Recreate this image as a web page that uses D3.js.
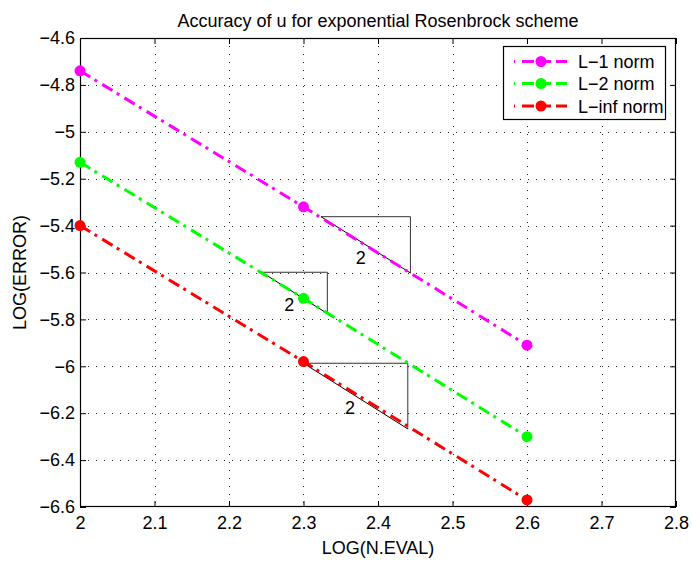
<!DOCTYPE html>
<html>
<head>
<meta charset="utf-8">
<script src="https://cdn.jsdelivr.net/npm/d3@7"></script>
<style>
  body { margin: 0; background: #fff; }
  svg { display: block; font-family: "Liberation Sans", Arial, Helvetica, sans-serif; }
</style>
</head>
<body>
<svg id="chart" width="692" height="561"></svg>
<script>
// log10 of the number of evaluations
const nEval = [2.0, 2.3, 2.6];
// log10 of the error for each norm
const errL1 = [-4.74, -5.32, -5.91];
const errL2 = [-5.13, -5.71, -6.30];
const errLinf = [-5.40, -5.98, -6.57];

const seriesNames = ["L\u22121 norm", "L\u22122 norm", "L\u2212inf norm"];
const seriesColors = ["#ff00ff", "#00ff00", "#ff0000"];

const xTicks = [2.0, 2.1, 2.2, 2.3, 2.4, 2.5, 2.6, 2.7, 2.8];
const xTickLabels = ["2", "2.1", "2.2", "2.3", "2.4", "2.5", "2.6", "2.7", "2.8"];
const yTicks = [-4.6, -4.8, -5.0, -5.2, -5.4, -5.6, -5.8, -6.0, -6.2, -6.4, -6.6];
const yTickLabels = ["\u22124.6", "\u22124.8", "\u22125", "\u22125.2", "\u22125.4", "\u22125.6",
                     "\u22125.8", "\u22126", "\u22126.2", "\u22126.4", "\u22126.6"];

// slope-2 reference triangles: start corner, horizontal run, slope
const triStartX = [2.3235, 2.244, 2.30];
const triStartY = [-5.362, -5.599, -5.987];
const triRun = [0.12, 0.088, 0.14];
const triSlope = [2, 2, 2];
// where each slope label sits (data units, text baseline)
const triLabelX = [2.377, 2.281, 2.3624];
const triLabelY = [-5.562, -5.766, -6.205];

const svg = d3.select("#chart");
const pLeft = 80, pRight = 676, pTop = 38, pBottom = 507;
const font = "18px";

const x = d3.scaleLinear().domain([2.0, 2.8]).range([pLeft, pRight]);
const y = d3.scaleLinear().domain([-6.6, -4.6]).range([pBottom, pTop]);

// dotted grid
const grid = svg.append("g");
grid.selectAll("line.gx").data(xTicks.slice(1, -1)).enter().append("line")
  .attr("x1", d => Math.round(x(d)) + 0.5).attr("x2", d => Math.round(x(d)) + 0.5)
  .attr("y1", pTop).attr("y2", pBottom)
  .attr("stroke", "#222").attr("stroke-width", 1).attr("stroke-dasharray", "1,7");
grid.selectAll("line.gy").data(yTicks.slice(1, -1)).enter().append("line")
  .attr("y1", d => Math.round(y(d)) + 0.5).attr("y2", d => Math.round(y(d)) + 0.5)
  .attr("x1", pLeft).attr("x2", pRight)
  .attr("stroke", "#222").attr("stroke-width", 1).attr("stroke-dasharray", "1,7");

// axes with inward ticks on all four sides
const tickLen = 6;
const axB = d3.axisBottom(x).tickValues(xTicks).tickSize(-tickLen).tickPadding(9)
  .tickFormat((d, i) => xTickLabels[i]);
const axT = d3.axisTop(x).tickValues(xTicks).tickSize(-tickLen).tickFormat("");
const axL = d3.axisLeft(y).tickValues(yTicks).tickSize(-tickLen).tickPadding(5)
  .tickFormat((d, i) => yTickLabels[i]);
const axR = d3.axisRight(y).tickValues(yTicks).tickSize(-tickLen).tickFormat("");

function styleAxis(g) {
  g.select(".domain").remove();
  g.selectAll("line").attr("stroke", "#000");
  g.selectAll("text").attr("fill", "#000").style("font-size", font)
    .style("font-family", "'Liberation Sans', Arial, sans-serif");
}
svg.append("g").attr("transform", `translate(0,${pBottom})`).call(axB).call(styleAxis);
svg.append("g").attr("transform", `translate(0,${pTop})`).call(axT).call(styleAxis);
svg.append("g").attr("transform", `translate(${pLeft},0)`).call(axL).call(styleAxis);
svg.append("g").attr("transform", `translate(${pRight},0)`).call(axR).call(styleAxis);

// frame
svg.append("rect").attr("x", pLeft + 0.5).attr("y", pTop + 0.5)
  .attr("width", pRight - pLeft - 1).attr("height", pBottom - pTop - 1)
  .attr("fill", "none").attr("stroke", "#000").attr("stroke-width", 1.2);

// reference triangles
const triG = svg.append("g");
triStartX.forEach((x0, i) => {
  const y0 = triStartY[i];
  const x1 = x0 + triRun[i];
  const y1 = y0 - triSlope[i] * triRun[i];
  const pts = [[x0, y0], [x1, y0], [x1, y1]];
  triG.append("polyline")
    .attr("points", pts.map(p => [x(p[0]), y(p[1])].join(",")).join(" "))
    .attr("fill", "none").attr("stroke", "#333").attr("stroke-width", 1);
  triG.append("line")
    .attr("x1", x(x0)).attr("y1", y(y0)).attr("x2", x(x1)).attr("y2", y(y1))
    .attr("stroke", "#000").attr("stroke-width", 1);
});

// convergence lines
const series = [errL1, errL2, errLinf];
const line = d3.line().x(d => x(d[0])).y(d => y(d[1]));
series.forEach((vals, i) => {
  const pts = nEval.map((n, k) => [n, vals[k]]);
  svg.append("path").datum(pts).attr("d", line)
    .attr("fill", "none").attr("stroke", seriesColors[i]).attr("stroke-width", 3)
    .attr("stroke-dasharray", "12,5,3,6");
  svg.selectAll(null).data(pts).enter().append("circle")
    .attr("cx", d => x(d[0])).attr("cy", d => y(d[1])).attr("r", 5.5)
    .attr("fill", seriesColors[i]);
});

// slope labels beside the triangles
const triLabelG = svg.append("g");
triSlope.forEach((s, i) => {
  triLabelG.append("text").attr("x", x(triLabelX[i])).attr("y", y(triLabelY[i]))
    .attr("text-anchor", "middle").style("font-size", font).text(String(s));
});

// title and axis labels
svg.append("text").attr("x", (pLeft + pRight) / 2).attr("y", 27)
  .attr("text-anchor", "middle").style("font-size", font)
  .text("Accuracy of u for exponential Rosenbrock scheme");
svg.append("text").attr("x", (pLeft + pRight) / 2).attr("y", 554)
  .attr("text-anchor", "middle").style("font-size", font).text("LOG(N.EVAL)");
svg.append("text").attr("transform", `translate(26,${(pTop + pBottom) / 2}) rotate(-90)`)
  .attr("text-anchor", "middle").style("font-size", font).text("LOG(ERROR)");

// legend
const lg = svg.append("g");
lg.append("rect").attr("x", 503.5).attr("y", 46.5).attr("width", 162).attr("height", 73)
  .attr("fill", "#fff").attr("stroke", "#000").attr("stroke-width", 1.2);
const rowY = [61.5, 83.5, 106];
seriesNames.forEach((name, i) => {
  lg.append("line").attr("x1", 514).attr("x2", 567).attr("y1", rowY[i]).attr("y2", rowY[i])
    .attr("stroke", seriesColors[i]).attr("stroke-width", 3)
    .attr("stroke-dasharray", "1,7,12,5,12,5,12,7,1");
  lg.append("circle").attr("cx", 541).attr("cy", rowY[i]).attr("r", 5.5)
    .attr("fill", seriesColors[i]);
  lg.append("text").attr("x", 578).attr("y", rowY[i] + 6.5)
    .style("font-size", font).text(name);
});
</script>
</body>
</html>
